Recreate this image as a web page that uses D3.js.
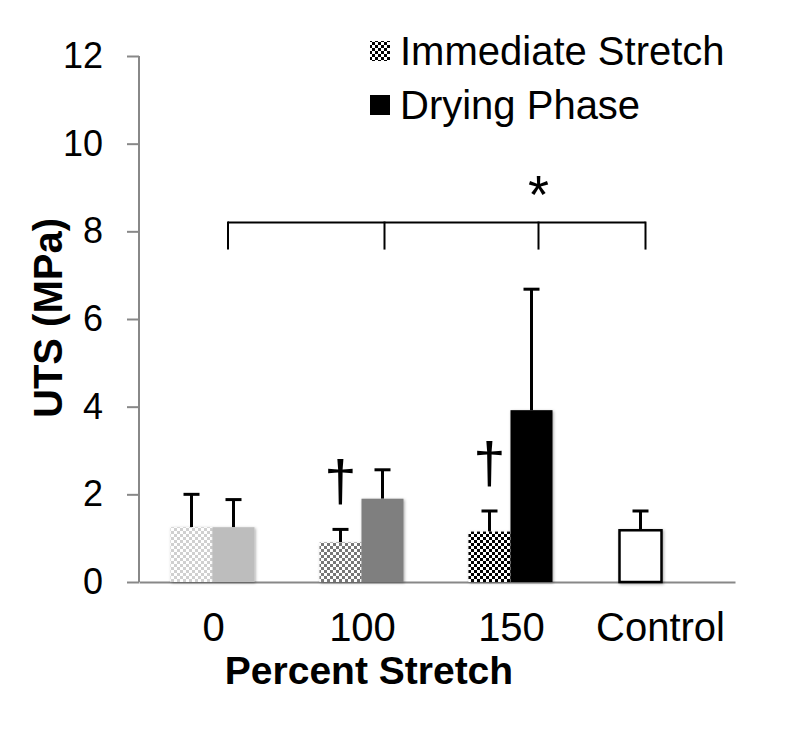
<!DOCTYPE html>
<html>
<head>
<meta charset="utf-8">
<script src="https://cdn.jsdelivr.net/npm/d3@7/dist/d3.min.js"></script>
<style>
  body { margin: 0; padding: 0; background: #fff; }
  text { font-family: "Liberation Sans", Arial, sans-serif; }
</style>
</head>
<body>
<svg id="chart" width="800" height="750"></svg>
<script>
// data
var categories = ["0", "100", "150", "Control"];
var immediate = [1.25, 0.9, 1.15, 1.18];
var immediateErr = [2.0, 1.2, 1.62, 1.62];
var drying = [1.25, 1.9, 3.92, null];
var dryingErr = [1.88, 2.56, 6.68, null];
var yTicks = [0, 2, 4, 6, 8, 10, 12];
var daggers = [1, 2];          // groups with a dagger over the immediate bar
var bracketY = 8.2;

// fills per group
var checkerDark = ["#d0d0d0", "#777", "#000", null];
var dryFill = ["#bdbdbd", "#7f7f7f", "#000"];

var svg = d3.select("#chart");
var defs = svg.append("defs");

checkerDark.forEach(function(c, i){
  if (!c) return;
  var p = defs.append("pattern").attr("id", "chk" + i)
    .attr("patternUnits", "userSpaceOnUse").attr("width", 6).attr("height", 6);
  p.append("rect").attr("width", 6).attr("height", 6).attr("fill", "#fff");
  p.append("rect").attr("width", 3).attr("height", 3).attr("fill", c);
  p.append("rect").attr("x", 3).attr("y", 3).attr("width", 3).attr("height", 3).attr("fill", c);
});
var f = defs.append("filter").attr("id", "shadow").attr("x", "-20%").attr("y", "-20%").attr("width", "140%").attr("height", "140%");
f.append("feDropShadow").attr("dx", 1).attr("dy", 1).attr("stdDeviation", 1.5).attr("flood-color", "#000").attr("flood-opacity", 0.35);

var x = d3.scaleBand().domain(categories).range([139, 735]);
var y = d3.scaleLinear().domain([0, 12]).range([582, 56]);
var bw = 42;

// axes
var yAxis = svg.append("g").attr("transform", "translate(139,0)")
  .call(d3.axisLeft(y).tickValues(yTicks).tickSize(12).tickPadding(24));
yAxis.select(".domain").attr("stroke", "#888").attr("stroke-width", 2).attr("d", "M0,56V582");
yAxis.selectAll(".tick line").attr("stroke", "#888").attr("stroke-width", 2);
yAxis.selectAll(".tick text").attr("font-size", 36).attr("fill", "#000")
  .style("font-family", "Liberation Sans, Arial, sans-serif");

var xAxis = svg.append("g").attr("transform", "translate(0,582)")
  .call(d3.axisBottom(x).tickSize(0).tickPadding(31));
xAxis.select(".domain").attr("stroke", "#888").attr("stroke-width", 2);
xAxis.selectAll(".tick text").attr("font-size", 40).attr("fill", "#000")
  .style("font-family", "Liberation Sans, Arial, sans-serif");

// bars
function err(cx, v, e) {
  svg.append("line").attr("x1", cx).attr("x2", cx).attr("y1", y(v)).attr("y2", y(e))
    .attr("stroke", "#000").attr("stroke-width", 3);
  svg.append("line").attr("x1", cx - 8).attr("x2", cx + 8).attr("y1", y(e)).attr("y2", y(e))
    .attr("stroke", "#000").attr("stroke-width", 3);
}

categories.forEach(function(c, i){
  var cx = x(c) + x.bandwidth() / 2;
  var x0 = cx - bw - 1;
  if (i < 3) {
    err(x0 + bw / 2, immediate[i], immediateErr[i]);
    svg.append("rect").attr("x", x0).attr("y", y(immediate[i]))
      .attr("width", bw).attr("height", y(0) - y(immediate[i]))
      .attr("fill", "url(#chk" + i + ")").attr("filter", "url(#shadow)");
    err(x0 + bw * 1.5, drying[i], dryingErr[i]);
    svg.append("rect").attr("x", x0 + bw).attr("y", y(drying[i]))
      .attr("width", bw).attr("height", y(0) - y(drying[i]))
      .attr("fill", dryFill[i]).attr("filter", "url(#shadow)");
  } else {
    err(x0 + bw / 2 + 2, immediate[i], immediateErr[i]);
    svg.append("rect").attr("x", x0 + 2).attr("y", y(immediate[i]))
      .attr("width", bw).attr("height", y(0) - y(immediate[i]))
      .attr("fill", "#fff").attr("stroke", "#000").attr("stroke-width", 2.5)
      .attr("filter", "url(#shadow)");
  }
});

// daggers
daggers.forEach(function(i){
  var cx = x(categories[i]) + x.bandwidth() / 2 - bw / 2 - 1;
  svg.append("text").attr("x", cx).attr("y", y(immediateErr[i]) - 28)
    .attr("text-anchor", "middle").attr("font-size", 58).attr("font-family", "DejaVu Serif")
    .text("\u2020");
});

// significance bracket
var bx = [228, x("100") + x.bandwidth() / 2 + 22, x("150") + x.bandwidth() / 2 + 27, x("Control") + x.bandwidth() / 2 - 15];
svg.append("line").attr("x1", bx[0]).attr("x2", bx[3]).attr("y1", y(bracketY)).attr("y2", y(bracketY))
  .attr("stroke", "#000").attr("stroke-width", 2);
bx.forEach(function(b){
  svg.append("line").attr("x1", b).attr("x2", b).attr("y1", y(bracketY) - 1).attr("y2", y(bracketY) + 27)
    .attr("stroke", "#000").attr("stroke-width", 2);
});
svg.append("text").attr("x", bx[2]).attr("y", y(bracketY) - 10).attr("text-anchor", "middle")
  .attr("font-size", 54).text("*");

// titles
svg.append("text").attr("transform", "translate(48,318) rotate(-90)")
  .attr("text-anchor", "middle").attr("dominant-baseline", "central")
  .attr("font-size", 40).attr("font-weight", "bold").text("UTS (MPa)");
svg.append("text").attr("x", 369).attr("y", 684).attr("text-anchor", "middle")
  .attr("font-size", 39).attr("font-weight", "bold").text("Percent Stretch");

// legend
var legend = [["Immediate Stretch", "url(#chk2)"], ["Drying Phase", "#000"]];
legend.forEach(function(l, i){
  var ly = 41 + i * 54;
  svg.append("rect").attr("x", 370).attr("y", ly).attr("width", 20).attr("height", 20).attr("fill", l[1]);
  svg.append("text").attr("x", 400).attr("y", ly + 24).attr("font-size", 40).text(l[0]);
});
</script>
</body>
</html>
